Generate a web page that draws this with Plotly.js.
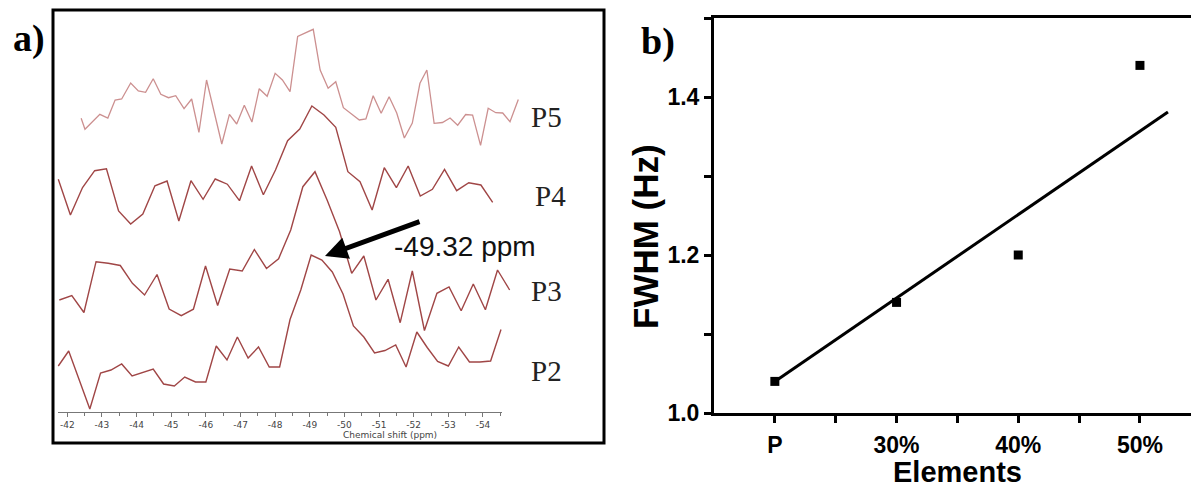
<!DOCTYPE html>
<html><head><meta charset="utf-8">
<script src="https://cdn.plot.ly/plotly-3.0.1.min.js"></script>
<style>html,body{margin:0;padding:0;background:#fff;} #chart{width:1191px;height:492px;}</style>
</head><body><div id="chart"></div>
<script>
// ---------- Panel a: NMR spectra (chemical shift in ppm, stacked intensity a.u.) ----------
const ppmP2 = [-41.74,-42.04,-42.65,-42.96,-43.26,-43.57,-43.87,-44.48,-44.78,-45.09,-45.39,-45.70,-46.00,-46.30,-46.61,-46.91,-47.22,-47.52,-47.83,-48.13,-48.43,-48.74,-49.04,-49.35,-49.65,-49.96,-50.26,-50.56,-50.87,-51.17,-51.48,-51.78,-52.09,-52.39,-52.69,-53.00,-53.30,-53.61,-53.91,-54.22,-54.52];
const intP2 = [46,61,3,39,42,48,36,43,28,26,35,30,30,66,52,75,54,65,45,45,92.5,122,157,152,140,118,86,75,59,61.5,67,45,80,64.5,50.5,46,65,50,50,51,82.5];

const ppmP3 = [-41.77,-42.13,-42.48,-42.83,-43.18,-43.53,-43.88,-44.23,-44.59,-44.94,-45.29,-45.64,-45.99,-46.34,-46.69,-47.05,-47.40,-47.75,-48.10,-48.45,-48.80,-49.15,-49.50,-49.86,-50.21,-50.56,-50.91,-51.26,-51.61,-51.96,-52.31,-52.67,-53.02,-53.37,-53.72,-54.07,-54.42,-54.77];
const intP3 = [112,116.3,99.5,150.3,148.7,146.5,128.7,117,137.5,103,96.3,102.8,146,106.5,143,141,162.5,143.5,153.3,182,225.3,240.3,212,180.3,138.7,156,112,132.7,89.3,141,81.5,118.7,125,101.3,128,102.3,142,122];

const ppmP4 = [-41.74,-42.09,-42.44,-42.79,-43.13,-43.48,-43.83,-44.18,-44.53,-44.88,-45.22,-45.57,-45.92,-46.27,-46.62,-46.97,-47.32,-47.66,-48.01,-48.36,-48.71,-49.06,-49.41,-49.75,-50.10,-50.45,-50.80,-51.15,-51.50,-51.84,-52.19,-52.54,-52.89,-53.24,-53.59,-53.94,-54.28];
const intP4 = [232.8,197,224.5,241.3,243.2,201,188,198,226.2,231,191,231.3,212.7,233,227.8,211.3,246,217.3,242,271.3,283,306,297,284.7,240.3,230.3,202,244.3,224.3,246,216,222.7,242.7,221.3,229.3,227,209.7];

const ppmP5 = [-42.40,-42.51,-42.94,-43.17,-43.38,-43.57,-43.83,-44.05,-44.26,-44.48,-44.70,-44.92,-45.13,-45.37,-45.59,-45.80,-46.02,-46.24,-46.46,-46.68,-46.89,-47.11,-47.33,-47.54,-47.77,-48.00,-48.21,-48.43,-48.65,-49.10,-49.30,-49.53,-49.75,-49.97,-50.21,-50.43,-50.62,-50.83,-51.06,-51.29,-51.51,-51.73,-51.96,-52.18,-52.38,-52.59,-52.83,-53.05,-53.27,-53.50,-53.70,-53.93,-54.15,-54.37,-54.57,-54.78,-55.02];
const intP5 = [293.7,282.7,297.7,294,312,313,329,321,319.7,333.3,317.7,314.3,316.3,303.3,313,279.7,332,300.3,268,297.7,288,306.7,290,323.3,315.7,338.7,332,320.3,375.5,382.7,342,323.7,330.3,304.3,298,292,293,316.3,298.7,315.3,299,274,289,328.7,342,288.7,289.5,294,286.8,297.5,296.8,266.7,303.7,299.3,299,290.3,312.5];

const seriesNames = ['P2','P3','P4','P5'];
const shiftTickVals = [-42,-43,-44,-45,-46,-47,-48,-49,-50,-51,-52,-53,-54];
const shiftTickText = ['-42','-43','-44','-45','-46','-47','-48','-49','-50','-51','-52','-53','-54'];
const shiftMinorVals = [-42.5,-43.5,-44.5,-45.5,-46.5,-47.5,-48.5,-49.5,-50.5,-51.5,-52.5,-53.5,-54.5];

// ---------- Panel b: FWHM vs element content ----------
const elements = ['P','30%','40%','50%'];
const elementPos = [1,2,3,4];
const fwhm = [1.04,1.14,1.20,1.44];
const fitX = [1,4.23];
const fitY = [1.04,1.381];
const fwhmTickVals = [1.0,1.1,1.2,1.3,1.4,1.5];
const fwhmTickText = ['1.0','','1.2','','1.4',''];
const elemTickVals = [1,1.5,2,2.5,3,3.5,4];
const elemTickText = ['P','','30%','','40%','','50%'];

// ---------- layout helpers ----------
const W=1191, H=492;
const px = x => x/W;
const py = y => (H-y)/H;
const pxToPpm = p => -42 - (p-67.3)/34.64;

const dark = '#a04646', light = '#cc9090';
const traces = [
  {x:[null], y:[null], xaxis:'x', yaxis:'y', mode:'lines', hoverinfo:'skip', showlegend:false},
  {x:ppmP2, y:intP2, name:seriesNames[0], xaxis:'x3', yaxis:'y3', mode:'lines', line:{color:dark,width:1.4}},
  {x:ppmP3, y:intP3, name:seriesNames[1], xaxis:'x3', yaxis:'y3', mode:'lines', line:{color:dark,width:1.4}},
  {x:ppmP4, y:intP4, name:seriesNames[2], xaxis:'x3', yaxis:'y3', mode:'lines', line:{color:dark,width:1.4}},
  {x:ppmP5, y:intP5, name:seriesNames[3], xaxis:'x3', yaxis:'y3', mode:'lines', line:{color:light,width:1.3}},
  {x:fitX, y:fitY, xaxis:'x2', yaxis:'y2', mode:'lines', line:{color:'#000',width:3}},
  {x:elementPos, y:fwhm, text:elements, xaxis:'x2', yaxis:'y2', mode:'markers', marker:{symbol:'square',size:9,color:'#000'}}
];

const boldTick = {family:'Liberation Sans Narrow, Arial Narrow, Liberation Sans', size:23, weight:'bold', color:'#000'};
function lab(text, x, y, font, extra) {
  return Object.assign({text, xref:'paper', yref:'paper', x:px(x), y:py(y), xanchor:'center', yanchor:'middle', showarrow:false, font}, extra||{});
}
const yDomA = [py(412), py(12)];
const layout = {
  width:W, height:H, margin:{l:0,r:0,t:0,b:0}, showlegend:false,
  paper_bgcolor:'#fff', plot_bgcolor:'rgba(0,0,0,0)',
  xaxis:{domain:[px(58),px(502)], range:[pxToPpm(58),pxToPpm(502)], anchor:'y',
    tickmode:'array', tickvals:shiftTickVals, ticktext:shiftTickText,
    ticks:'outside', ticklen:4, tickwidth:1, tickcolor:'#777',
    showline:true, linecolor:'#777', linewidth:1, showgrid:false, zeroline:false,
    tickfont:{family:'DejaVu Sans', size:9, color:'#444'},
    minor:{tickmode:'array', tickvals:shiftMinorVals, ticks:'outside', ticklen:3, tickwidth:1, tickcolor:'#777', showgrid:false}},
  yaxis:{domain:yDomA, range:[0,400], anchor:'x', visible:false},
  xaxis3:{domain:[px(53),px(600)], range:[pxToPpm(53),pxToPpm(600)], anchor:'y3', visible:false},
  yaxis3:{domain:yDomA, range:[0,400], anchor:'x3', visible:false},
  xaxis2:{domain:[px(714),1], range:[0.5, 0.5+(W-714)/121.7], anchor:'y2',
    tickmode:'array', tickvals:elemTickVals, ticktext:elemTickText,
    ticks:'outside', ticklen:7, tickwidth:3, tickcolor:'#000', ticklabelstandoff:2,
    showline:true, linewidth:3, linecolor:'#000', mirror:true, showgrid:false, zeroline:false,
    tickfont:boldTick},
  yaxis2:{domain:[py(413), py(18)], range:[1.0,1.5], anchor:'x2',
    tickmode:'array', tickvals:fwhmTickVals, ticktext:fwhmTickText,
    ticks:'outside', ticklen:7, tickwidth:3, tickcolor:'#000',
    showline:true, linewidth:3, linecolor:'#000', showgrid:false, zeroline:false,
    tickfont:boldTick},
  shapes:[
    {type:'rect', xref:'paper', yref:'paper', x0:px(53), x1:px(604), y0:py(443), y1:py(10), line:{color:'#000',width:3}}
  ],
  annotations:[
    lab('a)', 29, 38, {family:'Liberation Serif', size:38, weight:'bold', color:'#000'}),
    lab('b)', 658, 42, {family:'Liberation Serif', size:38, weight:'bold', color:'#000'}),
    lab('P5', 529, 117, {family:'Liberation Serif', size:29, color:'#222'}, {xanchor:'left'}),
    lab('P4', 533, 196, {family:'Liberation Serif', size:29, color:'#222'}, {xanchor:'left'}),
    lab('P3', 529, 291, {family:'Liberation Serif', size:29, color:'#222'}, {xanchor:'left'}),
    lab('P2', 529, 371, {family:'Liberation Serif', size:29, color:'#222'}, {xanchor:'left'}),
    lab('-49.32 ppm', 465, 246, {family:'Liberation Sans', size:28, color:'#111'}),
    {text:'', xref:'paper', yref:'paper', x:px(325), y:py(256), ax:96, ay:-35, showarrow:true, arrowhead:2, arrowsize:0.9, arrowwidth:5, arrowcolor:'#000', standoff:0},
    lab('Chemical shift (ppm)', 390, 435, {family:'DejaVu Sans', size:9, color:'#444'}),
    lab('Elements', 957, 472, {family:'Liberation Sans', size:29, weight:'bold', color:'#000'}),
    lab('FWHM (Hz)', 645, 237, {family:'Liberation Sans', size:35, weight:'bold', color:'#000'}, {textangle:-90})
  ]
};
Plotly.newPlot('chart', traces, layout, {displayModeBar:false, staticPlot:true});
</script></body></html>
